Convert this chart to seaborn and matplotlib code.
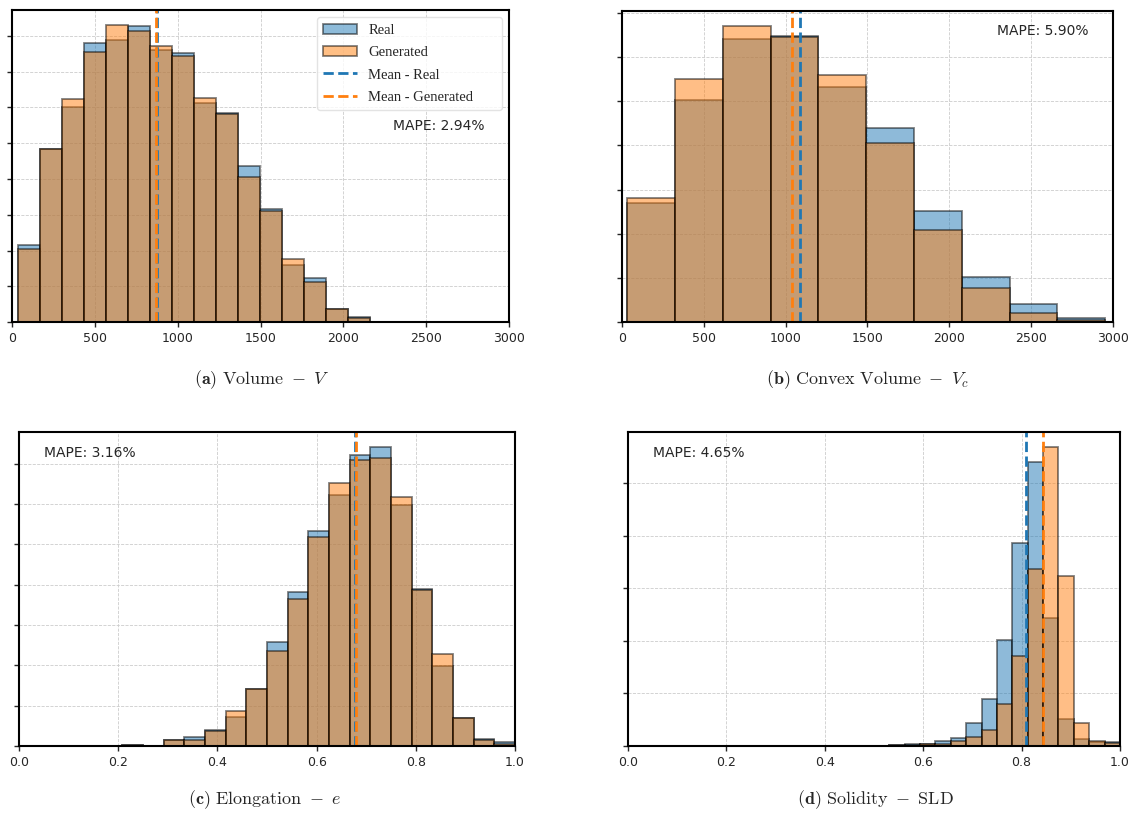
import matplotlib
matplotlib.use("Agg")
import matplotlib.pyplot as plt
import seaborn as sns
import numpy as np
import pandas as pd
from matplotlib.ticker import MultipleLocator
from matplotlib.patches import Patch
from matplotlib.lines import Line2D

# ---- data (bar heights in y-tick units) ----
vol_edges = np.linspace(34, 34 + 19 * 133, 20)
vol_real = [2.15, 4.85, 6.01, 7.80, 7.89, 8.27, 7.61, 7.53, 6.13, 5.84,
            4.36, 3.17, 1.60, 1.24, 0.37, 0.15, 0.01, 0.0, 0.01]
vol_gen = [2.05, 4.83, 6.23, 7.54, 8.31, 8.13, 7.71, 7.45, 6.26, 5.83,
           4.06, 3.11, 1.75, 1.11, 0.37, 0.11, 0.01, 0.0, 0.01]
vol_means = (872, 868)

cvx_edges = np.linspace(33, 33 + 10 * 292, 11)
cvx_real = [2.69, 5.02, 6.41, 6.47, 5.32, 4.40, 2.52, 1.01, 0.41, 0.09]
cvx_gen = [2.81, 5.51, 6.71, 6.46, 5.60, 4.05, 2.09, 0.77, 0.20, 0.04]
cvx_means = (1088, 1039)

elo_edges = np.arange(5, 25) / 24
elo_real = [0.03, 0.0, 0.16, 0.22, 0.39, 0.71, 1.41, 2.57, 3.81, 5.33,
            6.23, 7.22, 7.41, 5.98, 3.88, 1.98, 0.69, 0.17, 0.09]
elo_gen = [0.03, 0.0, 0.16, 0.16, 0.38, 0.88, 1.41, 2.35, 3.64, 5.18,
           6.52, 7.10, 7.14, 6.18, 3.87, 2.28, 0.69, 0.15, 0.04]
elo_means = (0.677, 0.679)

sld_edges = np.arange(13, 33) / 32
sld_real = [0.01, 0.01, 0.0, 0.01, 0.02, 0.03, 0.04, 0.10, 0.15, 0.44,
            0.89, 2.01, 3.86, 5.41, 2.44, 0.52, 0.13, 0.07, 0.07]
sld_gen = [0.0, 0.0, 0.0, 0.01, 0.02, 0.02, 0.03, 0.04, 0.09, 0.18,
           0.31, 0.80, 1.71, 3.37, 5.69, 3.23, 0.44, 0.10, 0.06]
sld_means = (0.810, 0.843)

mape = ["MAPE: 2.94%", "MAPE: 5.90%", "MAPE: 3.16%", "MAPE: 4.65%"]
captions = [r"$\mathbf{(a)}\ \mathrm{Volume}\ -\ V$",
            r"$\mathbf{(b)}\ \mathrm{Convex\ Volume}\ -\ V_c$",
            r"$\mathbf{(c)}\ \mathrm{Elongation}\ -\ e$",
            r"$\mathbf{(d)}\ \mathrm{Solidity}\ -\ \mathrm{SLD}$"]

# ---- style ----
sns.set_style("white")
plt.rcParams['font.family'] = ['DejaVu Sans']
plt.rcParams['mathtext.fontset'] = 'cm'
plt.rcParams['axes.linewidth'] = 1.5
plt.rcParams['axes.edgecolor'] = 'black'
plt.rcParams['xtick.labelsize'] = 9
plt.rcParams['xtick.bottom'] = True
plt.rcParams['ytick.left'] = True

REAL = '#1f77b4'
GEN = '#ff7f0e'
EDGE = (0, 0, 0, 0.5)

fig = plt.figure(figsize=(11.37, 8.14), dpi=100)
positions = [
    [0.0106, 0.6044, 0.4371, 0.3833],
    [0.5470, 0.6044, 0.4318, 0.3820],
    [0.0167, 0.0835, 0.4362, 0.3857],
    [0.5523, 0.0835, 0.4327, 0.3857],
]
panels = [
    (vol_edges, vol_real, vol_gen, vol_means, (0, 3000), 500),
    (cvx_edges, cvx_real, cvx_gen, cvx_means, (0, 3000), 500),
    (elo_edges, elo_real, elo_gen, elo_means, (0, 1), 0.2),
    (sld_edges, sld_real, sld_gen, sld_means, (0, 1), 0.2),
]
mape_pos = [(0.95, 0.628, 'right'), (0.95, 0.936, 'right'),
            (0.05, 0.933, 'left'), (0.05, 0.933, 'left')]
caption_pos = [(0.2304, 0.5332), (0.7634, 0.5332),
               (0.2330, 0.0172), (0.7696, 0.0172)]

for i, (edges, real, gen, means, xlim, xstep) in enumerate(panels):
    ax = fig.add_axes(positions[i])
    centers = (edges[:-1] + edges[1:]) / 2
    df = pd.DataFrame({'x': centers, 'real': real, 'gen': gen})
    bins = list(edges)
    sns.histplot(data=df, x='x', weights='real', bins=bins, ax=ax,
                 color=REAL, alpha=0.5, edgecolor=EDGE, linewidth=1.3)
    sns.histplot(data=df, x='x', weights='gen', bins=bins, ax=ax,
                 color=GEN, alpha=0.5, edgecolor=EDGE, linewidth=1.3)
    ax.axvline(means[0], color=REAL, linestyle='--', linewidth=2)
    ax.axvline(means[1], color=GEN, linestyle='--', linewidth=2)

    ax.set_xlim(*xlim)
    ax.xaxis.set_major_locator(MultipleLocator(xstep))
    if xstep < 1:
        ax.xaxis.set_major_formatter(plt.FuncFormatter(lambda v, p: f'{v:.1f}'))
    ax.yaxis.set_major_locator(MultipleLocator(1))
    ax.tick_params(axis='y', labelleft=False, length=3.5, width=1)
    ax.tick_params(axis='x', length=3.5, width=1, pad=3.5)
    ax.set_ylabel('')
    ax.set_xlabel('')
    ax.grid(True, linestyle='--', linewidth=0.6, color='#cccccc')
    ax.set_axisbelow(True)

    mx, my, ha = mape_pos[i]
    ax.text(mx, my, mape[i], transform=ax.transAxes, ha=ha, va='center',
            fontsize=10)
    cx, cy = caption_pos[i]
    fig.text(cx, cy, captions[i], ha='center', va='center', fontsize=13)

    if i == 0:
        handles = [
            Patch(facecolor=(0.12, 0.47, 0.71, 0.5), edgecolor=EDGE, linewidth=1.3, label='Real'),
            Patch(facecolor=(1.0, 0.5, 0.05, 0.5), edgecolor=EDGE, linewidth=1.3, label='Generated'),
            Line2D([0], [0], color=REAL, linestyle='--', linewidth=2, label='Mean - Real'),
            Line2D([0], [0], color=GEN, linestyle='--', linewidth=2, label='Mean - Generated      '),
        ]
        ax.legend(handles=handles, loc='upper right',
                  prop={'family': 'Liberation Serif', 'size': 10.5},
                  frameon=True, framealpha=0.8, edgecolor='#dddddd',
                  borderaxespad=0.5, labelspacing=0.62, handlelength=2.3,
                  handletextpad=0.8, borderpad=0.45)

fig.savefig('out.png', dpi=100)
